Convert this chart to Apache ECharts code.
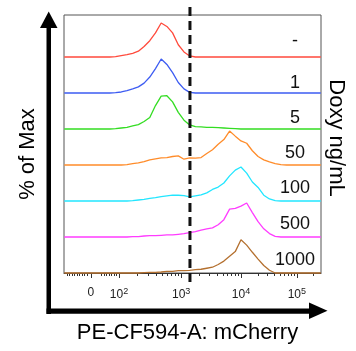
<!DOCTYPE html>
<html>
<head>
<meta charset="utf-8">
<script src="https://cdn.jsdelivr.net/npm/echarts@6/dist/echarts.min.js"></script>
<style>html,body{margin:0;padding:0;background:#fff}#c{width:356px;height:351px}</style>
</head>
<body>
<div id="c"></div>
<script>
// display bins (biexponential display units; 3 ~ 10^3, 4 ~ 10^4)
const xs = [0.9,1.0,1.1,1.2,1.3,1.4,1.5,1.6,1.7,1.8,1.9,2.0,2.1,2.2,2.3,2.4,2.5,2.6,2.7,2.8,2.9,3.0,3.1,3.2,3.3,3.4,3.5,3.6,3.7,3.8,3.9,4.0,4.1,4.2,4.3,4.4,4.5,4.6,4.7,4.8,4.9,5.0,5.1,5.2,5.3,5.4];
const doseLabels = ['-','1','5','50','100','500','1000'];
const seriesColors = ['#ff4a3c','#3d5cf2','#33dd22','#ff8c2a','#22e6ff','#ff3cff','#b4702f'];
const vNone = [0,0,0,0,0,0,0,0,0,1,4,7,11,17,31,48,71,100,90,71,36,15,3,0,0,0,0,0,0,0,0,0,0,0,0,0,0,0,0,0,0,0,0,0,0,0];
const v1    = [0,0,0,0,0,0,0,0,0,1,3,7,12,18,29,47,72,100,84,60,31,12,2,0,0,0,0,0,0,0,0,0,0,0,0,0,0,0,0,0,0,0,0,0,0,0];
const v5    = [0,0,0,0,0,0,0,0,0,1,3,5,9,13,22,34,69,97,98,80,49,26,12,7,6,5,5,4,3,2,1,0,0,0,0,0,0,0,0,0,0,0,0,0,0,0];
const v50   = [0,0,0,0,0,0,0,0,0,0,0,1,4,6,10,15,18,21,22,25,27,17,21,20,22,34,45,61,75,100,85,71,64,42,25,15,9,4,1,0,0,0,0,0,0,0];
const v100  = [0,0,0,0,0,0,0,0,0,0,0,0,1,3,5,8,10,13,15,17,17,16,12,15,18,24,34,41,53,74,91,100,82,56,40,17,6,1,0,0,0,0,0,0,0,0];
const v500  = [0,0,0,0,0,0,0,0,0,0,0,0,1,1,3,4,4,5,6,6,8,10,13,16,20,24,27,36,51,82,84,91,100,72,45,24,10,2,0,0,0,0,0,0,0,0];
const v1000 = [0,0,0,0,0,0,0,0,0,0,0,0,0,0,1,2,2,3,5,5,7,7,8,10,11,14,17,25,35,49,63,98,82,61,41,22,8,0,0,0,0,0,0,0,0,0];
const rowValues = [vNone, v1, v5, v50, v100, v500, v1000];
const tickLabels = ['0','10{s|2}','10{s|3}','10{s|4}','10{s|5}'];
const tickPos = [1.368, 1.86, 2.95, 4.0, 4.98];
const gateX = 3.105;

const XMIN = 0.895, XMAX = 5.404;
// minor tick positions (layout only)
const minor = [];
for (let i = 0; i < 9; i++) minor.push(3 + (67 + 2.5 * i - 184) / 57);
for (let i = 0; i < 7; i++) minor.push(3 + (101.5 + 2.5 * i - 184) / 57);
for (let k = 2; k <= 9; k++) minor.push(1.86 + 1.09 * Math.log10(k));
for (let k = 2; k <= 9; k++) minor.push(2.95 + 1.05 * Math.log10(k));
for (let k = 2; k <= 9; k++) minor.push(4.0 + 0.98 * Math.log10(k));
minor.push(4.98 + 0.98 * Math.log10(2));

const FONT = '"Liberation Sans", Arial, Helvetica, sans-serif';
const L = 64, W = 257, ROWTOP = 21, ROWH = 36;

const grids = [{left: L, width: W, top: 15, height: 258, show: true, borderColor: '#555', borderWidth: 1, backgroundColor: 'transparent'}];
const xAxes = [
  {gridIndex: 0, type: 'value', position: 'bottom', min: XMIN, max: XMAX,
   axisLine: {show: true, onZero: false, lineStyle: {color: '#333', width: 1}},
   axisTick: {show: true, inside: false, length: 5, customValues: tickPos, lineStyle: {color: '#333', width: 1}},
   axisLabel: {show: true, customValues: tickPos, margin: 14, color: '#222', fontFamily: FONT, fontSize: 12,
     formatter: function (v) { let i = tickPos.findIndex(t => Math.abs(t - v) < 1e-6); return i >= 0 ? tickLabels[i] : ''; },
     rich: {s: {fontSize: 9, fontFamily: FONT, color: '#222', verticalAlign: 'bottom', padding: [0, 0, 7, 0]}}},
   splitLine: {show: false}},
  {gridIndex: 0, type: 'value', position: 'bottom', offset: 0, min: XMIN, max: XMAX,
   axisLine: {show: false, onZero: false}, axisTick: {show: true, inside: false, length: 3, customValues: minor, lineStyle: {color: '#333', width: 1}},
   axisLabel: {show: false}, splitLine: {show: false}}
];
const yAxes = [{gridIndex: 0, type: 'value', min: 0, max: 100, show: false}];
const series = [];
const graphic = [];
const labelY = [41, 83, 118, 153, 188, 224, 260];

rowValues.forEach((vals, i) => {
  grids.push({left: L, width: W, top: ROWTOP + ROWH * i, height: ROWH});
  xAxes.push({gridIndex: i + 1, type: 'value', min: XMIN, max: XMAX, show: false});
  yAxes.push({gridIndex: i + 1, type: 'value', min: 0, max: 106, show: false});
  series.push({type: 'line', xAxisIndex: i + 2, yAxisIndex: i + 1, showSymbol: false, silent: true, clip: false,
    data: xs.map((x, j) => [x, vals[j]]), lineStyle: {color: seriesColors[i], width: 1.3}, z: 2});
  graphic.push({type: 'text', x: 295, y: labelY[i], style: {text: doseLabels[i], font: '18px ' + FONT, fill: '#111', align: 'center', verticalAlign: 'middle'}});
});

series.push({type: 'line', xAxisIndex: 0, yAxisIndex: 0, showSymbol: false, silent: true, clip: false, z: 10,
  data: [[gateX, -3.5], [gateX, 103.2]], lineStyle: {color: '#111', width: 3, type: [9, 5]}});

graphic.push(
  {type: 'rect', shape: {x: 46.5, y: 25, width: 4.5, height: 289}, style: {fill: '#000'}},
  {type: 'polygon', shape: {points: [[40, 28], [57.5, 28], [48.7, 11.5]]}, style: {fill: '#000'}},
  {type: 'rect', shape: {x: 46.5, y: 308.5, width: 264, height: 5.2}, style: {fill: '#000'}},
  {type: 'polygon', shape: {points: [[309, 302.5], [309, 319], [327.5, 310.8]]}, style: {fill: '#000'}},
  {type: 'text', x: 28, y: 154, rotation: Math.PI / 2, style: {text: '% of Max', font: '22px ' + FONT, fill: '#000', align: 'center', verticalAlign: 'middle'}},
  {type: 'text', x: 336, y: 138, rotation: -Math.PI / 2, style: {text: 'Doxy ng/mL', font: '22px ' + FONT, fill: '#000', align: 'center', verticalAlign: 'middle'}},
  {type: 'text', x: 187.5, y: 333, style: {text: 'PE-CF594-A: mCherry', font: '22px ' + FONT, fill: '#000', align: 'center', verticalAlign: 'middle'}}
);

const chart = echarts.init(document.getElementById('c'), null, {renderer: 'canvas'});
chart.setOption({animation: false, backgroundColor: '#fff', grid: grids, xAxis: xAxes, yAxis: yAxes, series: series, graphic: graphic});
</script>
</body>
</html>
